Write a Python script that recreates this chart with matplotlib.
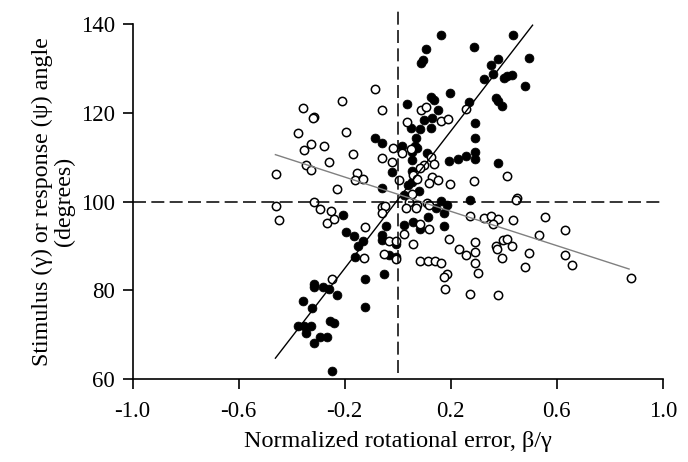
import matplotlib
matplotlib.use("Agg")
import matplotlib.pyplot as plt

####################################
# Data
####################################

# filled circles
filled_x = [-0.207, -0.194, -0.165, -0.130, -0.150, -0.161, -0.124, -0.315, -0.317, -0.281,
            -0.258, -0.229, -0.358, -0.324, -0.124, -0.377, -0.352, -0.327, -0.346, -0.255,
            -0.239, -0.293, -0.268, -0.317, -0.249, 0.034, 0.124, 0.136, 0.199, 0.268,
            0.153, 0.099, 0.130, 0.049, 0.083, 0.124, 0.293, -0.085, -0.060, 0.070,
            0.018, 0.065, 0.074, 0.293, 0.293, 0.055, 0.112, 0.055, 0.193, 0.228,
            0.256, 0.291, -0.023, 0.055, 0.055, 0.040, -0.060, 0.024, 0.080, 0.165,
            0.187, 0.143, 0.174, 0.274, 0.115, 0.058, 0.024, -0.042, 0.084, 0.176,
            -0.060, -0.058, -0.005, -0.033, -0.005, -0.052, 0.089, 0.095, 0.108, 0.164,
            0.289, 0.435, 0.496, 0.379, 0.353, 0.358, 0.327, 0.402, 0.412, 0.430,
            0.479, 0.370, 0.380, 0.394, 0.380]
filled_y = [97.0, 93.2, 92.3, 91.2, 90.0, 87.6, 82.5, 81.4, 80.7, 80.8,
            80.4, 78.9, 77.6, 75.9, 76.2, 72.0, 72.0, 72.0, 70.4, 73.1,
            72.6, 69.5, 69.5, 68.1, 61.8, 122.0, 123.6, 122.9, 124.4, 122.4,
            120.7, 118.5, 118.8, 116.7, 116.3, 116.5, 117.7, 114.3, 113.2, 114.4,
            112.6, 112.6, 112.0, 114.4, 111.3, 111.1, 110.9, 109.4, 109.2, 109.6,
            110.4, 109.6, 106.6, 106.9, 104.5, 103.8, 103.0, 101.4, 102.4, 100.2,
            99.2, 98.5, 97.4, 100.4, 96.5, 95.3, 94.7, 94.6, 93.8, 94.5,
            92.5, 91.3, 90.4, 88.0, 87.6, 83.7, 131.2, 131.9, 134.4, 137.5,
            134.8, 137.6, 132.3, 132.2, 130.8, 128.8, 127.7, 128.0, 128.3, 128.6,
            126.1, 123.3, 122.7, 121.6, 108.7]

# open circles
open_x = [-0.208, -0.358, -0.316, -0.320, -0.376, -0.193, -0.326, -0.279, -0.352, -0.167,
          -0.257, -0.347, -0.326, -0.459, -0.152, -0.162, -0.130, -0.228, -0.459, -0.448,
          -0.317, -0.293, -0.253, -0.268, -0.239, -0.123, -0.125, -0.249, -0.085, -0.060,
          0.090, 0.108, 0.035, 0.165, 0.191, 0.258, -0.018, -0.060, -0.020, 0.018,
          0.049, 0.124, 0.136, 0.099, 0.084, 0.059, 0.074, 0.005, 0.128, 0.153,
          0.120, 0.199, 0.288, 0.053, 0.042, 0.074, 0.070, 0.112, 0.120, 0.272,
          0.030, -0.060, -0.048, -0.058, 0.084, 0.118, 0.024, -0.033, -0.005, 0.058,
          0.193, 0.230, 0.256, 0.293, 0.293, 0.293, 0.303, -0.052, -0.005, 0.083,
          0.114, 0.140, 0.165, 0.187, 0.174, 0.177, 0.272, 0.412, 0.452, 0.445,
          0.324, 0.353, 0.380, 0.358, 0.435, 0.556, 0.533, 0.633, 0.398, 0.412,
          0.371, 0.375, 0.430, 0.394, 0.496, 0.633, 0.479, 0.659, 0.879, 0.379]
open_y = [122.7, 121.1, 119.2, 118.8, 115.5, 115.7, 113.1, 112.6, 111.6, 110.7,
          108.9, 108.3, 107.1, 106.2, 106.5, 104.9, 105.1, 102.8, 99.0, 95.9,
          100.0, 98.3, 98.0, 95.1, 96.0, 94.3, 87.2, 82.6, 125.4, 120.7,
          120.6, 121.3, 118.0, 118.3, 118.7, 120.9, 112.2, 109.9, 109.0, 110.9,
          111.9, 110.1, 108.4, 108.3, 107.5, 106.0, 105.1, 104.9, 105.6, 104.8,
          104.1, 103.9, 104.7, 101.7, 100.0, 99.2, 98.5, 99.8, 99.2, 96.8,
          98.5, 98.7, 99.0, 97.4, 94.9, 93.8, 92.7, 91.2, 91.2, 90.4,
          91.6, 89.3, 88.0, 91.0, 88.6, 86.2, 84.0, 88.3, 87.0, 86.7,
          86.6, 86.5, 86.2, 83.6, 83.1, 80.4, 79.1, 105.8, 100.9, 100.4,
          96.2, 96.8, 96.1, 95.0, 95.9, 96.6, 92.4, 93.5, 91.4, 91.6,
          90.1, 89.3, 90.0, 87.4, 88.5, 88.0, 85.3, 85.6, 82.7, 78.9]

# regression lines (end points)
fit_filled_x = [-0.461, 0.509]
fit_filled_y = [64.7, 139.8]
fit_open_x = [-0.461, 0.873]
fit_open_y = [110.6, 84.8]

xticks = [-1.0, -0.6, -0.2, 0.2, 0.6, 1.0]
xtick_labels = ["-1.0", "-0.6", "-0.2", "0.2", "0.6", "1.0"]
yticks = [60, 80, 100, 120, 140]

####################################
# Plot
####################################

plt.rcParams['font.family'] = ['Liberation Serif', 'DejaVu Serif']
plt.rcParams['font.size'] = 16.5

fig = plt.figure(figsize=(6.88, 4.62), dpi=100)
ax = fig.add_axes([0.1926, 0.1797, 0.7707, 0.7677])

ax.plot(filled_x, filled_y, 'o', color='black', ms=6.4, mew=0.5, zorder=2)
ax.plot(open_x, open_y, 'o', mfc='white', mec='black', ms=6.0, mew=1.1, zorder=3)

ax.plot(fit_filled_x, fit_filled_y, '-', color='black', lw=1.0, zorder=4)
ax.plot(fit_open_x, fit_open_y, '-', color='#808080', lw=1.0, zorder=4)

# reference lines
ax.plot([-1.0, 1.0], [100, 100], color='black', lw=1.1, dashes=(8.5, 3.5), zorder=5)
ax.plot([0, 0], [61.4, 143.0], color='black', lw=1.1, dashes=(8.5, 3.5), zorder=5,
        clip_on=False)

ax.set_xlim(-1.0, 1.0)
ax.set_ylim(60, 140)
ax.set_xticks(xticks)
ax.set_xticklabels(xtick_labels)
ax.set_yticks(yticks)

for s in ['top', 'right']:
    ax.spines[s].set_visible(False)
for s in ['left', 'bottom']:
    ax.spines[s].set_linewidth(1.2)

ax.tick_params(direction='out', length=7.5, width=1.2, colors='black')
ax.tick_params(axis='x', pad=8)
ax.tick_params(axis='y', pad=5)

ax.set_xlabel("Normalized rotational error, \u03b2/\u03b3", fontsize=17.5, labelpad=7)
ax.set_ylabel("Stimulus (\u03b3) or response (\u03c8) angle\n(degrees)",
              fontsize=17.3, labelpad=4, linespacing=1.05)

fig.savefig("out.png", dpi=100)
